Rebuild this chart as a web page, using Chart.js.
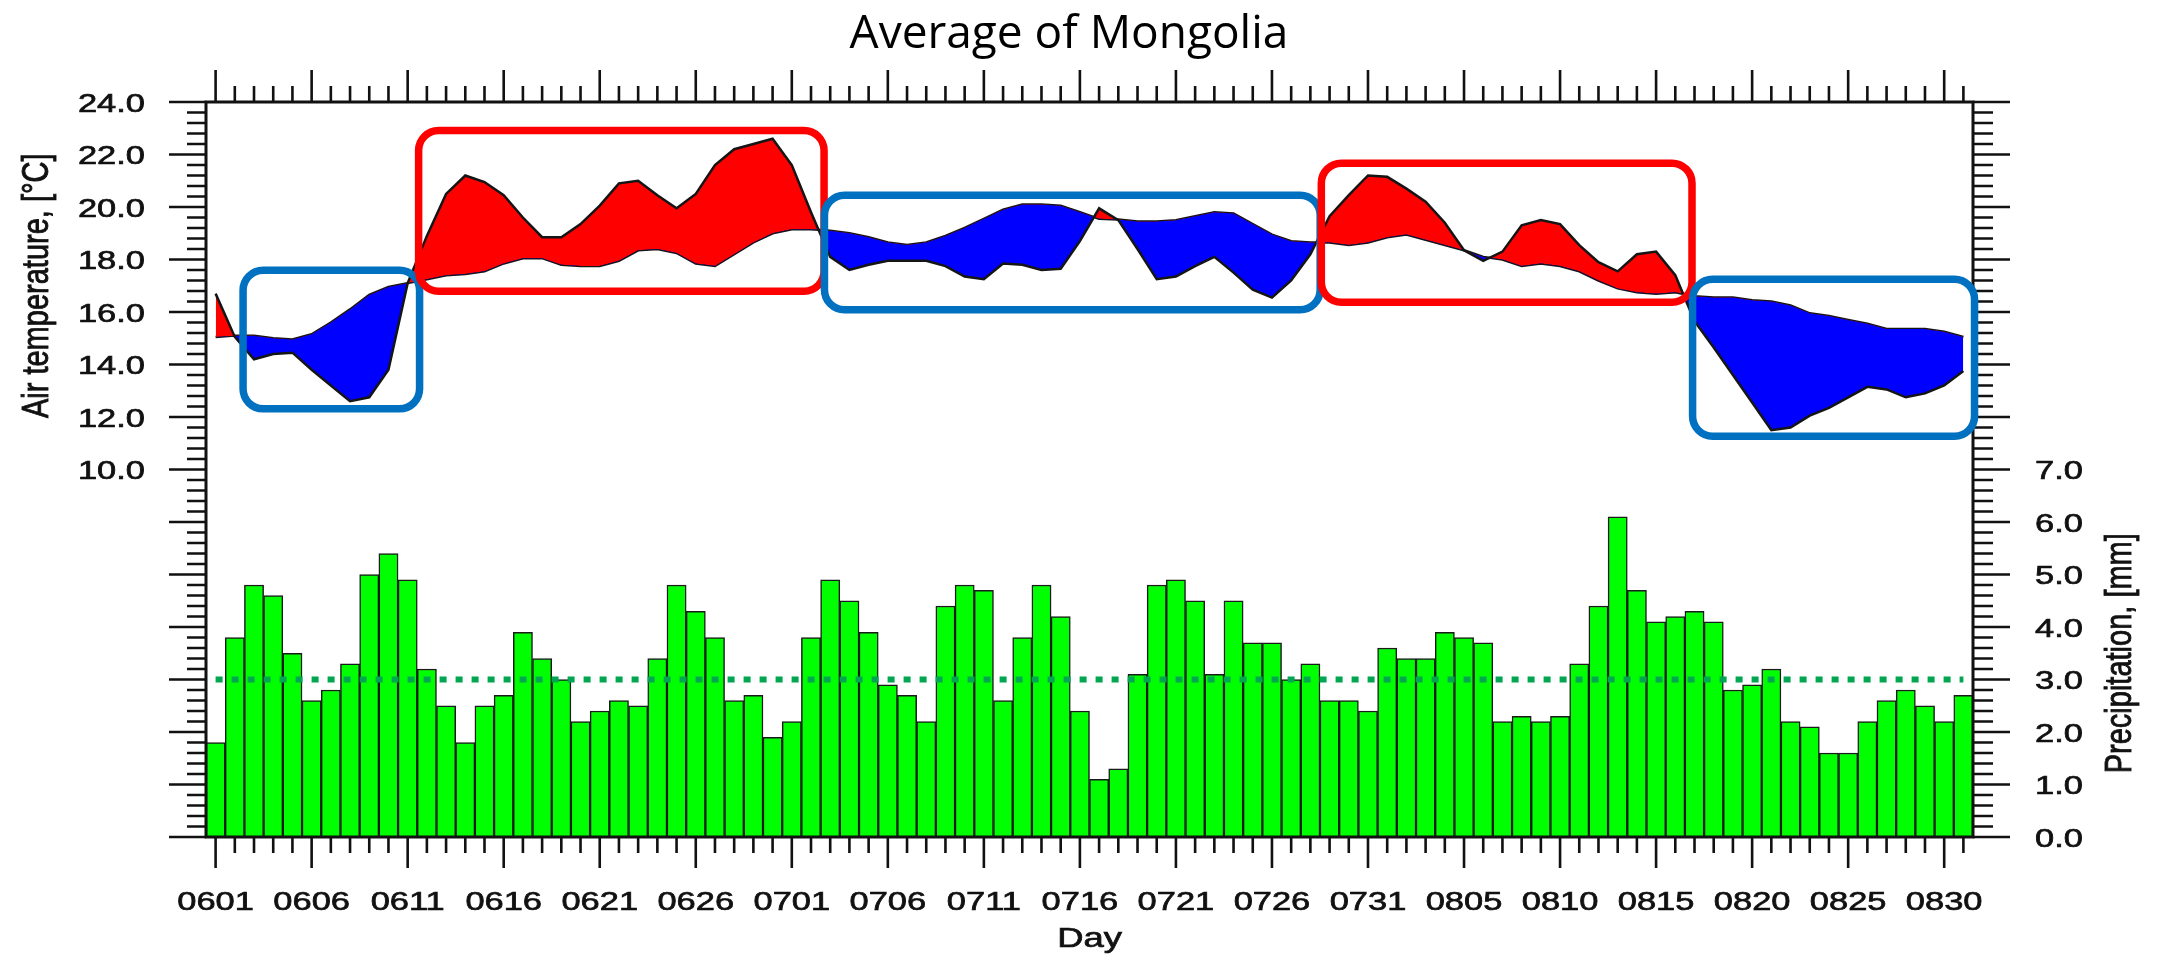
<!DOCTYPE html>
<html>
<head>
<meta charset="utf-8">
<title>Average of Mongolia</title>
<script src="https://cdn.jsdelivr.net/npm/chart.js@4.4.1/dist/chart.umd.min.js"></script>
<style>
  html, body { margin: 0; padding: 0; background: #fff; }
  #wrap { width: 2157px; height: 956px; position: relative; }
</style>
</head>
<body>
<div id="wrap"><canvas id="mainChart"></canvas></div>
<script>
const days = [
  '0601','0602','0603','0604','0605','0606','0607','0608','0609','0610',
  '0611','0612','0613','0614','0615','0616','0617','0618','0619','0620',
  '0621','0622','0623','0624','0625','0626','0627','0628','0629','0630',
  '0701','0702','0703','0704','0705','0706','0707','0708','0709','0710',
  '0711','0712','0713','0714','0715','0716','0717','0718','0719','0720',
  '0721','0722','0723','0724','0725','0726','0727','0728','0729','0730','0731',
  '0801','0802','0803','0804','0805','0806','0807','0808','0809','0810',
  '0811','0812','0813','0814','0815','0816','0817','0818','0819','0820',
  '0821','0822','0823','0824','0825','0826','0827','0828','0829','0830','0831'
];

// daily air temperature of the year, degC
const tempObs = [
  16.7, 15.05, 14.2, 14.4, 14.45, 13.8, 13.2, 12.6, 12.75, 13.8,
  17.1, 18.9, 20.5, 21.2, 20.95, 20.45, 19.6, 18.85, 18.85, 19.35,
  20.05, 20.9, 21.0, 20.45, 19.95, 20.5, 21.6, 22.2, 22.4, 22.6,
  21.6, 19.8, 18.1, 17.6, 17.8, 17.95, 17.95, 17.95, 17.75, 17.35,
  17.25, 17.85, 17.8, 17.6, 17.65, 18.7, 19.95, 19.5, 18.4, 17.25,
  17.35, 17.75, 18.1, 17.5, 16.85, 16.55, 17.2, 18.2, 19.65, 20.45, 21.2,
  21.15, 20.7, 20.2, 19.4, 18.35, 17.95, 18.3, 19.3, 19.5, 19.35,
  18.55, 17.9, 17.55, 18.2, 18.3, 17.4, 15.65, 14.65, 13.6, 12.55,
  11.5, 11.6, 12.05, 12.35, 12.75, 13.15, 13.05, 12.75, 12.9, 13.2, 13.75
];

// climatological mean, degC
const tempClim = [
  15.05, 15.1, 15.1, 15.0, 14.95, 15.15, 15.6, 16.1, 16.65, 16.95,
  17.1, 17.25, 17.4, 17.45, 17.55, 17.85, 18.05, 18.05, 17.8, 17.75,
  17.75, 17.95, 18.35, 18.4, 18.25, 17.85, 17.75, 18.2, 18.65, 19.0,
  19.15, 19.15, 19.1, 19.0, 18.85, 18.65, 18.55, 18.65, 18.9, 19.2,
  19.55, 19.9, 20.1, 20.1, 20.05, 19.8, 19.55, 19.52, 19.45, 19.45,
  19.5, 19.65, 19.8, 19.75, 19.35, 18.95, 18.7, 18.65, 18.65, 18.55, 18.65,
  18.85, 18.95, 18.75, 18.55, 18.35, 18.1, 18.0, 17.75, 17.85, 17.75,
  17.55, 17.2, 16.9, 16.75, 16.7, 16.75, 16.6, 16.55, 16.55, 16.45,
  16.4, 16.25, 15.95, 15.85, 15.7, 15.55, 15.35, 15.35, 15.35, 15.25, 15.05
];

// daily precipitation, mm
const precip = [
  1.8, 3.8, 4.8, 4.6, 3.5, 2.6, 2.8, 3.3, 5.0, 5.4,
  4.9, 3.2, 2.5, 1.8, 2.5, 2.7, 3.9, 3.4, 3.0, 2.2,
  2.4, 2.6, 2.5, 3.4, 4.8, 4.3, 3.8, 2.6, 2.7, 1.9,
  2.2, 3.8, 4.9, 4.5, 3.9, 2.9, 2.7, 2.2, 4.4, 4.8,
  4.7, 2.6, 3.8, 4.8, 4.2, 2.4, 1.1, 1.3, 3.1, 4.8,
  4.9, 4.5, 3.1, 4.5, 3.7, 3.7, 3.0, 3.3, 2.6, 2.6, 2.4,
  3.6, 3.4, 3.4, 3.9, 3.8, 3.7, 2.2, 2.3, 2.2, 2.3,
  3.3, 4.4, 6.1, 4.7, 4.1, 4.2, 4.3, 4.1, 2.8, 2.9,
  3.2, 2.2, 2.1, 1.6, 1.6, 2.2, 2.6, 2.8, 2.5, 2.2, 2.7
];
const PRECIP_REF = 3.0;

const tempTicks = [10, 12, 14, 16, 18, 20, 22, 24];
const precipTicks = [0, 1, 2, 3, 4, 5, 6, 7];

// highlighted periods, in day index / degC
const highlightBoxes = [
  { from: 1.43,  to: 10.62, top: 17.59, bottom: 12.31, color: '#0070C0' },
  { from: 10.57, to: 31.68, top: 22.91, bottom: 16.79, color: '#FF0000' },
  { from: 31.7,  to: 57.51, top: 20.45, bottom: 16.09, color: '#0070C0' },
  { from: 57.57, to: 76.87, top: 21.67, bottom: 16.37, color: '#FF0000' },
  { from: 76.9,  to: 91.58, top: 17.25, bottom: 11.27, color: '#0070C0' }
];

// the source plot was pasted in stretched sideways, so its text is wide
const STRETCH = 1.3;
const FONT = '"Liberation Sans", Arial, sans-serif';

function wideText(ctx, s, x, y, size, align, rot) {
  ctx.save();
  ctx.translate(x, y);
  ctx.scale(STRETCH, 1);
  if (rot) ctx.rotate(rot);
  ctx.font = size + 'px ' + FONT;
  ctx.textAlign = align;
  ctx.textBaseline = 'alphabetic';
  ctx.fillStyle = '#111';
  ctx.strokeStyle = '#111';
  ctx.lineWidth = 0.7;
  ctx.fillText(s, 0, 0);
  ctx.strokeText(s, 0, 0);
  ctx.restore();
}

function roundBox(ctx, x0, y0, x1, y1, r) {
  ctx.beginPath();
  ctx.moveTo(x0 + r, y0);
  ctx.arcTo(x1, y0, x1, y1, r);
  ctx.arcTo(x1, y1, x0, y1, r);
  ctx.arcTo(x0, y1, x0, y0, r);
  ctx.arcTo(x0, y0, x1, y0, r);
  ctx.closePath();
  ctx.stroke();
}

const nclAxes = {
  id: 'nclAxes',
  afterDraw(chart) {
    const { ctx, chartArea: a, scales } = chart;
    const x = scales.x, yT = scales.yT, yP = scales.yP;
    ctx.save();
    ctx.strokeStyle = '#111';
    ctx.lineWidth = 2.6;
    ctx.beginPath();

    // day ticks, bottom and top
    days.forEach((d, i) => {
      const px = x.getPixelForValue(i);
      const major = i % 5 === 0;
      ctx.moveTo(px, a.bottom); ctx.lineTo(px, a.bottom + (major ? 31 : 16));
      ctx.moveTo(px, a.top); ctx.lineTo(px, a.top - (major ? 32 : 16));
    });

    // temperature ticks on the left
    for (let k = 0; yT.min + k * 0.4 <= yT.max + 1e-6; k++) {
      const py = yT.getPixelForValue(yT.min + k * 0.4);
      ctx.moveTo(a.left, py); ctx.lineTo(a.left - (k % 5 === 0 ? 37 : 19), py);
    }
    // precipitation ticks on the right
    for (let k = 0; yP.min + k * 0.2 <= yP.max + 1e-6; k++) {
      const py = yP.getPixelForValue(yP.min + k * 0.2);
      ctx.moveTo(a.right, py); ctx.lineTo(a.right + (k % 5 === 0 ? 37 : 20), py);
    }
    ctx.stroke();

    ctx.lineWidth = 3;
    ctx.strokeRect(a.left, a.top, a.right - a.left, a.bottom - a.top);

    // tick labels
    days.forEach((d, i) => {
      if (i % 5 === 0) wideText(ctx, d, x.getPixelForValue(i), a.bottom + 73, 26.5, 'center');
    });
    tempTicks.forEach(v => {
      wideText(ctx, v.toFixed(1), a.left - 61, yT.getPixelForValue(v) + 9.5, 26.5, 'right');
    });
    precipTicks.forEach(v => {
      wideText(ctx, v.toFixed(1), a.right + 62, yP.getPixelForValue(v) + 9.5, 26.5, 'left');
    });

    // axis titles
    const midX = (a.left + a.right) / 2;
    wideText(ctx, 'Day', midX, 947, 28, 'center');
    const tMid = (yT.getPixelForValue(tempTicks[0]) + yT.getPixelForValue(tempTicks[tempTicks.length - 1])) / 2;
    wideText(ctx, 'Air temperature, [\u00B0C]', 48, tMid, 29, 'center', -Math.PI / 2);
    const pMid = (yP.getPixelForValue(precipTicks[0]) + yP.getPixelForValue(precipTicks[precipTicks.length - 1])) / 2;
    wideText(ctx, 'Precipitation, [mm]', 2131, pMid, 29, 'center', -Math.PI / 2);

    // highlight boxes on top
    ctx.lineWidth = 7.5;
    highlightBoxes.forEach(b => {
      ctx.strokeStyle = b.color;
      roundBox(ctx, x.getPixelForValue(b.from), yT.getPixelForValue(b.top),
               x.getPixelForValue(b.to), yT.getPixelForValue(b.bottom), 20);
    });

    // title
    ctx.fillStyle = '#000';
    ctx.font = '46px "Open Sans", sans-serif';
    ctx.textAlign = 'center';
    ctx.textBaseline = 'alphabetic';
    ctx.fillText('Average of Mongolia', 1069, 48);
    ctx.restore();
  }
};

const ctx = document.getElementById('mainChart').getContext('2d');
const chart = new Chart(ctx, {
  type: 'bar',
  data: {
    labels: days,
    datasets: [
      {
        type: 'line',
        data: tempObs,
        yAxisID: 'yT',
        borderColor: '#151515',
        borderWidth: 2.5,
        pointRadius: 0,
        tension: 0,
        fill: { target: 1, above: '#FF0000', below: '#0000FF' },
        order: 1
      },
      {
        type: 'line',
        data: tempClim,
        yAxisID: 'yT',
        borderColor: '#151515',
        borderWidth: 2.5,
        pointRadius: 0,
        tension: 0,
        fill: false,
        order: 1
      },
      {
        type: 'line',
        data: [{ x: days[0], y: PRECIP_REF }, { x: days[days.length - 1], y: PRECIP_REF }],
        yAxisID: 'yP',
        borderColor: '#00A651',
        borderWidth: 6,
        borderDash: [7, 9],
        pointRadius: 0,
        fill: false,
        order: 0
      },
      {
        type: 'bar',
        data: precip,
        yAxisID: 'yP',
        backgroundColor: '#00FF00',
        borderColor: '#1a1a1a',
        borderWidth: 1.5,
        barPercentage: 1,
        categoryPercentage: 1,
        order: 3
      }
    ]
  },
  options: {
    responsive: true,
    maintainAspectRatio: false,
    animation: false,
    layout: { padding: { left: 206, right: 184, top: 102, bottom: 119 } },
    scales: {
      x: { type: 'category', display: false, offset: true },
      yT: { type: 'linear', display: false, min: -4, max: 24 },
      yP: { type: 'linear', display: false, min: 0, max: 14 }
    },
    plugins: { legend: { display: false }, tooltip: { enabled: false } }
  },
  plugins: [nclAxes]
});
</script>
</body>
</html>
